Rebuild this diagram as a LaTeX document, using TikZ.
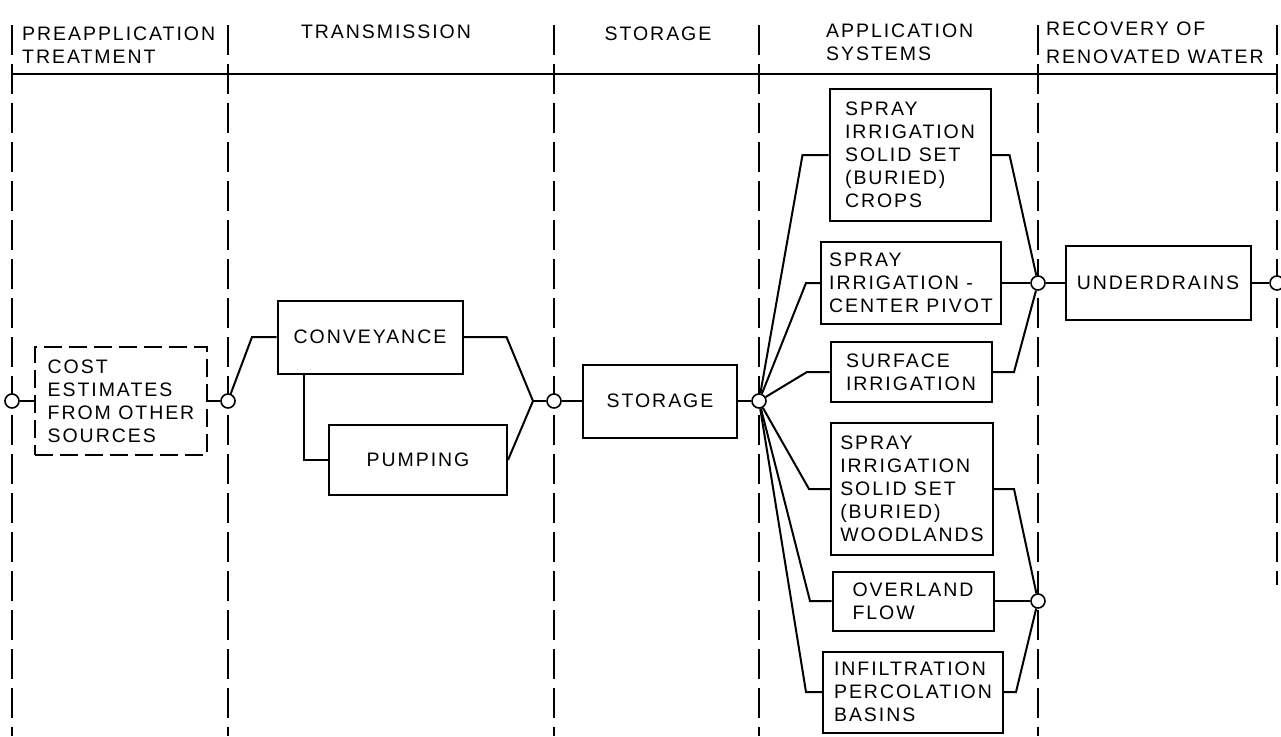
\documentclass[tikz,border=0pt]{standalone}
\usepackage{fontspec}
\newfontfamily\diagfont[LetterSpace=10]{Liberation Sans}
\begin{document}
\begin{tikzpicture}[x=1pt,y=-1pt,
  txt/.style={font=\diagfont\fontsize{19.5}{23}\selectfont},
  box/.style={txt, draw, line width=2pt, inner sep=0pt, align=left, fill=white},
  dbox/.style={box, dash pattern=on 18pt off 7pt},
  conn/.style={line width=2pt},
  jn/.style={circle, draw, fill=white, line width=1.6pt, minimum size=14pt, inner sep=0pt},
  sepline/.style={line width=1.6pt, dash pattern=on 30pt off 9pt},
  hdr/.style={txt, inner sep=0pt}
]
\useasboundingbox (0,0) rectangle (1281,736);

% column separators
\coordinate (s1t) at (12,25);   \coordinate (s1b) at (12,736);
\coordinate (s2t) at (228,25);  \coordinate (s2b) at (228,736);
\coordinate (s3t) at (554,25);  \coordinate (s3b) at (554,736);
\coordinate (s4t) at (759,25);  \coordinate (s4b) at (759,736);
\coordinate (s5t) at (1038,25); \coordinate (s5b) at (1038,736);
\coordinate (s6t) at (1277,25); \coordinate (s6b) at (1277,585);
\draw[sepline] (s1t) -- (s1b);
\draw[sepline] (s2t) -- (s2b);
\draw[sepline] (s3t) -- (s3b);
\draw[sepline] (s4t) -- (s4b);
\draw[sepline] (s5t) -- (s5b);
\draw[sepline] (s6t) -- (s6b);
\coordinate (hl) at (12,74); \coordinate (hr) at (1277,74);
\draw[line width=1.6pt] (hl) -- (hr);

% header texts
\node[hdr, anchor=base west] (hpre1) at (22,40.5) {PREAPPLICATION};
\node[hdr, anchor=base west] (hpre2) at (22,63) {TREATMENT};
\node[hdr, anchor=base] (htr) at (386,38) {TRANSMISSION};
\node[hdr, anchor=base] (hst) at (658,40) {STORAGE};
\node[hdr, anchor=base west] (hap1) at (826,37) {APPLICATION};
\node[hdr, anchor=base west] (hap2) at (826,60) {SYSTEMS};
\node[hdr, anchor=base west] (hre1) at (1046,35.5) {RECOVERY OF};
\node[hdr, anchor=base west] (hre2) at (1046,63) {RENOVATED WATER};

% boxes
\node[dbox, minimum width=172pt, minimum height=108pt] (cost) at (121,401) {COST\\ESTIMATES\\FROM OTHER\\SOURCES};
\node[box, minimum width=185pt, minimum height=73pt] (conv) at (370,337) {CONVEYANCE};
\node[box, minimum width=178pt, minimum height=70pt] (pump) at (418,460) {PUMPING};
\node[box, minimum width=154pt, minimum height=73pt] (stor) at (660,401) {STORAGE};
\node[box, minimum width=161pt, minimum height=132pt] (crops) at (910,155) {SPRAY\\IRRIGATION\\SOLID SET\\(BURIED)\\CROPS};
\node[box, minimum width=180pt, minimum height=82pt] (pivot) at (911,283) {SPRAY\\IRRIGATION -\\CENTER PIVOT};
\node[box, minimum width=161pt, minimum height=60pt] (surf) at (911,372) {SURFACE\\IRRIGATION};
\node[box, minimum width=162pt, minimum height=132pt] (wood) at (912,489) {SPRAY\\IRRIGATION\\SOLID SET\\(BURIED)\\WOODLANDS};
\node[box, minimum width=161pt, minimum height=59pt] (over) at (913,601) {OVERLAND\\FLOW};
\node[box, minimum width=180pt, minimum height=81pt] (infil) at (913,692) {INFILTRATION\\PERCOLATION\\BASINS};
\node[box, minimum width=185pt, minimum height=74pt] (under) at (1158,283) {UNDERDRAINS};

% junction circles
\node[jn] (c0) at (12,401) {};
\node[jn] (c1) at (228,401) {};
\node[jn] (c2) at (554,401) {};
\node[jn] (c3) at (759,401) {};
\node[jn] (c4) at (1038,283) {};
\node[jn] (c5) at (1038,601) {};
\node[jn] (c6) at (1277,283) {};
\coordinate (j1) at (533,401);

% connectors
\draw[conn] (c0) -- (cost);
\draw[conn] (cost) -- (c1);
\draw[conn] (c1) -- ([xshift=-24.5pt]conv.west) -- (conv.west);
\draw[conn] ([xshift=27pt]conv.south west) |- (pump.west);
\draw[conn] (conv.east) -- ([xshift=43pt]conv.east) -- (j1);
\draw[conn] (pump.east) -- (j1);
\draw[conn] (j1) -- (c2);
\draw[conn] (c2) -- (stor);
\draw[conn] (stor) -- (c3);

\draw[conn] (c3) -- ([xshift=-26pt]crops.west) -- (crops.west);
\draw[conn] (c3) -- ([xshift=-14pt]pivot.west) -- (pivot.west);
\draw[conn] (c3) -- ([xshift=-22.5pt]surf.west) -- (surf.west);
\draw[conn] (c3) -- ([xshift=-21pt]wood.west) -- (wood.west);
\draw[conn] (c3) -- ([xshift=-21.5pt]over.west) -- (over.west);
\draw[conn] (c3) -- ([xshift=-16pt]infil.west) -- (infil.west);

\draw[conn] (crops.east) -- ([xshift=18pt]crops.east) -- (c4);
\draw[conn] (pivot) -- (c4);
\draw[conn] (surf.east) -- ([xshift=21.5pt]surf.east) -- (c4);
\draw[conn] (wood.east) -- ([xshift=20pt]wood.east) -- (c5);
\draw[conn] (over) -- (c5);
\draw[conn] (infil.east) -- ([xshift=12pt]infil.east) -- (c5);
\draw[conn] (c4) -- (under);
\draw[conn] (under) -- (c6);
\end{tikzpicture}
\end{document}
